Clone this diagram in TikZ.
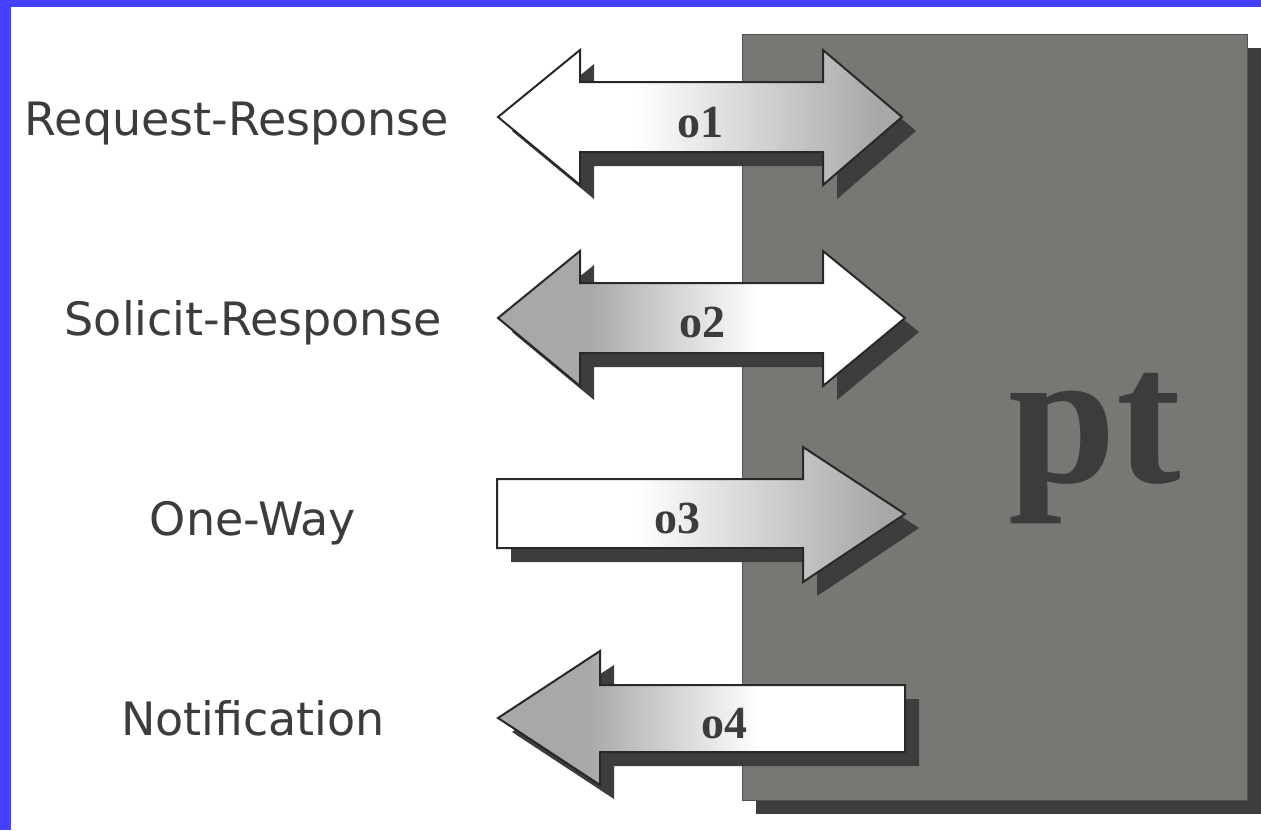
\documentclass[tikz,border=0pt]{standalone}
\usepackage{fontspec}
\newfontfamily\opfont{Liberation Serif}[UprightFont=*-Bold]
\newfontfamily\labelfont{DejaVu Sans}
\usepackage{xcolor}
\usepackage{tikz}
\usetikzlibrary{positioning}
\usetikzlibrary{shadows}

\definecolor{bandblue}{RGB}{68,64,255}
\definecolor{boxgray}{RGB}{118,120,116}
\definecolor{shadowgray}{RGB}{61,61,61}
\definecolor{edgegray}{RGB}{40,40,40}
\definecolor{arrowgray}{RGB}{168,168,168}
\definecolor{inkgray}{RGB}{60,60,60}

% white on the left, grey on the right, and the other way round
\pgfdeclarehorizontalshading{shadeR}{100bp}{color(0bp)=(white); color(42bp)=(white); color(72bp)=(arrowgray); color(100bp)=(arrowgray)}
\pgfdeclarehorizontalshading{shadeL}{100bp}{color(0bp)=(arrowgray); color(36bp)=(arrowgray); color(57bp)=(white); color(100bp)=(white)}

\begin{document}
\begin{tikzpicture}[x=1pt,y=-1pt,node distance=200pt,on grid,
    lbl/.style={font=\labelfont\fontsize{46}{54}\selectfont,text=inkgray,inner sep=0pt,text height=34pt,text depth=10pt},
    oplbl/.style={font=\opfont\fontsize{46}{50}\selectfont,text=inkgray,inner sep=0pt,anchor=base},
    flat shadow/.style={drop shadow={shadow xshift=14pt,shadow yshift=-14pt,fill=shadowgray,opacity=1}},
    box/.style={fill=boxgray,draw=edgegray!80,line width=1pt,flat shadow},
    arrowbody/.style={draw=edgegray,line width=2pt,line join=miter,flat shadow,shade},
    fadeR/.style={arrowbody,shading=shadeR},
    fadeL/.style={arrowbody,shading=shadeL}]
  \useasboundingbox (0,0) rectangle (1261,830);
  \fill[white] (0,0) rectangle (1261,830);
  % blue frame
  \fill[bandblue] (0,0) rectangle (1261,7);
  \fill[bandblue] (0,0) rectangle (11,830);
  % port type
  \draw[box] (742,34) rectangle (1247,800);
  \node[font=\opfont\fontsize{194}{200}\selectfont,text=inkgray,inner sep=0pt,anchor=base] (pt) at (1095,482) {pt};
  % operations
  \path[fadeR] (498,117) -- (580,50) -- (580,82) -- (823,82) -- (823,50) -- (902,117) -- (823,185) -- (823,152) -- (580,152) -- (580,185) -- cycle;
  \path[fadeL] (498,318) -- (580,251) -- (580,283) -- (823,283) -- (823,251) -- (905,318) -- (823,386) -- (823,353) -- (580,353) -- (580,386) -- cycle;
  \path[fadeR] (497,479) -- (803,479) -- (803,447) -- (905,514) -- (803,582) -- (803,548) -- (497,548) -- cycle;
  \path[fadeL] (498,718) -- (600,651) -- (600,685) -- (905,685) -- (905,752) -- (600,752) -- (600,785) -- cycle;
  \node[oplbl] (o1) at (700,137) {o1};
  \node[oplbl] (o2) at (702,337) {o2};
  \node[oplbl] (o3) at (677,533) {o3};
  \node[oplbl] (o4) at (724,738) {o4};
  % kinds of operation
  \node[lbl] (rr) at (237,123) {Request-Response};
  \node[lbl] (sr) at (253,323) {Solicit-Response};
  \node[lbl] (ow) [below=of sr] {One-Way};
  \node[lbl] (nt) [below=of ow] {Notification};
\end{tikzpicture}
\end{document}
